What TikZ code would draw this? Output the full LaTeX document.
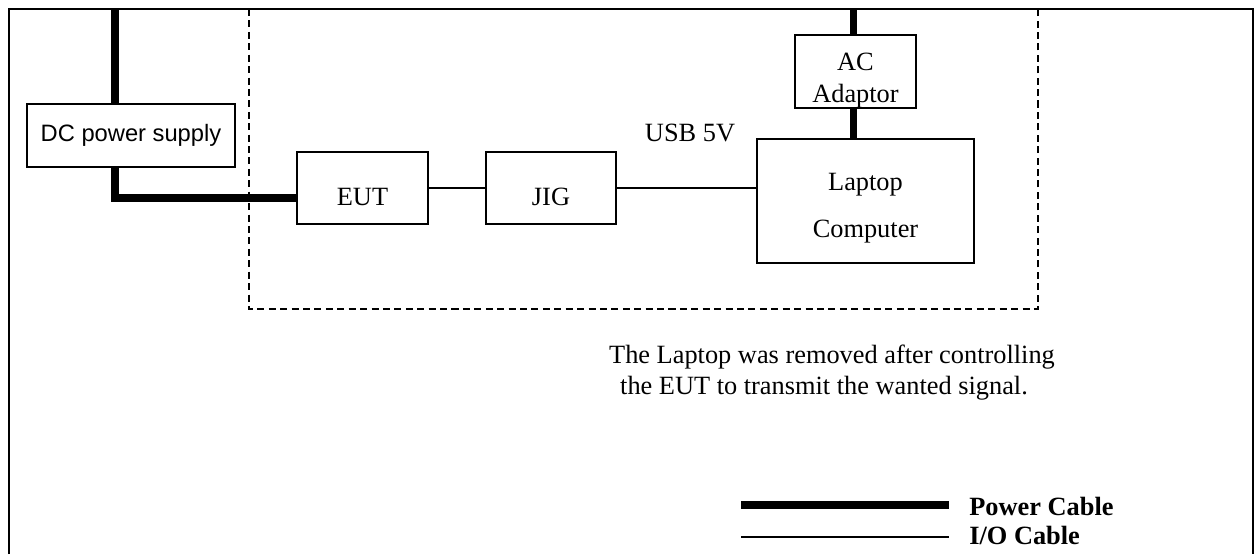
\documentclass[tikz,border=0pt]{standalone}
\usepackage{fontspec}
\setmainfont{Liberation Serif}
\newfontfamily\dcfont{Liberation Sans}

\tikzset{
  unit/.style={draw, line width=0.9pt, inner sep=0pt, align=center},
  power/.style={line width=4pt},
  io/.style={line width=1pt},
  area/.style={line width=0.9pt, dash pattern=on 4pt off 2.5pt},
}

\begin{document}
\begin{tikzpicture}[x=0.02cm, y=-0.02cm, font=\fontsize{15}{18}\selectfont]
  \useasboundingbox (0,0) rectangle (1260,554);

  % outer frame, open at the bottom
  \draw[line width=1pt] (9,554) -- (9,9) -- (1253,9) -- (1253,554);
  % test area (top edge hidden by the frame)
  \draw[area] (249,9) -- (249,309) -- (1038,309) -- (1038,9);

  % units
  \node[unit, minimum width=4.16cm, minimum height=1.26cm,
        font=\dcfont\fontsize{13.5}{16}\selectfont] (dc) at (131,135.5) {DC power supply};
  \node[unit, minimum width=2.62cm, minimum height=1.44cm,
        text height=20pt, text depth=0pt] (eut) at (362.5,188) {EUT};
  \node[unit, minimum width=2.6cm, minimum height=1.44cm,
        text height=20pt, text depth=0pt] (jig) at (551,188) {JIG};
  \node[unit, minimum width=4.34cm, minimum height=2.48cm,
        label={[name=laptoptxt, align=center, yshift=-4pt]center:Laptop\\[9pt]Computer}] (laptop) at (865.5,201) {};
  \node[unit, minimum width=2.42cm, minimum height=1.46cm,
        label={[name=actxt, align=center, yshift=-5pt]center:AC\\Adaptor}] (ac) at (855.5,71.5) {};
  \node (usb) at (690,133) {USB 5V};

  % power cables
  \coordinate (dcin) at (115,9);
  \coordinate (dcout) at (115,198);
  \coordinate (acin) at (853,9);
  \draw[power] (dcin) -- (dcin |- dc.north);
  \draw[power] (dcout |- dc.south) -- (dcout) -- (dcout -| eut.west);
  \draw[power] (acin) -- (acin |- ac.north);
  \draw[power] (acin |- ac.south) -- (acin |- laptop.north);

  % i/o cables
  \draw[io] (eut.east) -- (jig.west);
  \draw[io] (jig.east) -- (jig.east -| laptop.west);

  % note
  \node (note1) at (832,357) {The Laptop was removed after controlling};
  \node (note2) at (824,388) {the EUT to transmit the wanted signal.};

  % legend
  \coordinate (powa) at (741,505);
  \coordinate (powb) at (949,505);
  \coordinate (ioa) at (741,537);
  \coordinate (iob) at (949,537);
  \draw[line width=5pt] (powa) -- (powb);
  \draw[io] (ioa) -- (iob);
  \node[anchor=west, inner sep=0pt, font=\bfseries\fontsize{15}{18}\selectfont] (powlbl) at (969,506) {Power Cable};
  \node[anchor=west, inner sep=0pt, font=\bfseries\fontsize{15}{18}\selectfont] (iolbl) at (969,535) {I/O Cable};
\end{tikzpicture}
\end{document}
